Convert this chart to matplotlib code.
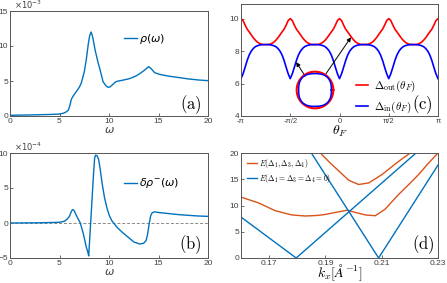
import numpy as np
import matplotlib
matplotlib.use("Agg")
import matplotlib.pyplot as plt

# ---------------- data ----------------
# (a) rho(omega), units of 1e-3
omega_a = [0, 2, 4, 5, 5.4, 5.7, 5.9, 6.05, 6.2, 6.4,
           6.7, 7.0, 7.2, 7.5, 7.7, 7.9, 8.05, 8.2, 8.35, 8.6,
           8.9, 9.1, 9.4, 9.7, 9.9, 10.1, 10.3, 10.6, 10.8, 11.5,
           12.1, 12.7, 13.1, 13.5, 13.8, 14.0, 14.2, 14.6, 15.1, 16,
           17, 18, 19, 20]
rho_a = [0.1, 0.15, 0.22, 0.28, 0.4, 0.6, 0.86, 1.5, 2.4, 2.9,
         3.5, 4.1, 4.7, 6.3, 8.0, 10.2, 11.5, 12.0, 11.3, 9.4,
         7.6, 6.6, 4.9, 4.3, 4.1, 4.15, 4.4, 4.8, 4.95, 5.15,
         5.35, 5.7, 6.05, 6.45, 6.8, 7.05, 6.85, 6.2, 5.95, 5.7,
         5.5, 5.3, 5.15, 5.05]

# (b) delta rho^-(omega), units of 1e-4
omega_b = [0, 3, 5, 5.5, 5.8, 6.0, 6.15, 6.3, 6.45, 6.6,
           6.8, 7.1, 7.4, 7.7, 7.85, 7.95, 8.05, 8.15, 8.25, 8.35,
           8.45, 8.55, 8.65, 8.8, 8.95, 9.1, 9.3, 9.55, 9.8, 10.05,
           10.3, 10.8, 11.4, 12.0, 12.5, 13.1, 13.5, 13.75, 13.9, 14.05,
           14.2, 14.35, 14.6, 15.0, 16, 17, 18, 19, 20]
drho_b = [0.0, 0.03, 0.1, 0.25, 0.6, 0.95, 1.5, 1.9, 1.85, 1.4,
          0.8, 0.0, -1.5, -3.4, -4.1, -4.7, -2.3, 0.1, 2.5, 4.9,
          7.3, 9.3, 9.7, 9.6, 9.1, 7.8, 5.7, 3.6, 2.1, 1.0,
          0.3, -0.6, -1.4, -2.1, -2.7, -3.0, -2.9, -2.5, -1.6, -0.2,
          1.0, 1.45, 1.6, 1.5, 1.35, 1.2, 1.1, 1.0, 0.95]

# (c) Delta_out / Delta_in vs theta_F (97 points from -pi to pi)
delta_out = [
    10.0, 9.88, 9.6, 9.35, 9.18, 9.0, 8.82, 8.67, 8.55, 8.47, 8.42, 8.4,
    8.4, 8.4, 8.42, 8.47, 8.55, 8.67, 8.82, 9.0, 9.18, 9.35, 9.6, 9.88,
    10.0, 9.88, 9.6, 9.35, 9.18, 9.0, 8.82, 8.67, 8.55, 8.47, 8.42, 8.4,
    8.4, 8.4, 8.42, 8.47, 8.55, 8.67, 8.82, 9.0, 9.18, 9.35, 9.6, 9.88,
    10.0, 9.88, 9.6, 9.35, 9.18, 9.0, 8.82, 8.67, 8.55, 8.47, 8.42, 8.4,
    8.4, 8.4, 8.42, 8.47, 8.55, 8.67, 8.82, 9.0, 9.18, 9.35, 9.6, 9.88,
    10.0, 9.88, 9.6, 9.35, 9.18, 9.0, 8.82, 8.67, 8.55, 8.47, 8.42, 8.4,
    8.4, 8.4, 8.42, 8.47, 8.55, 8.67, 8.82, 9.0, 9.18, 9.35, 9.6, 9.88,
    10.0]
delta_in = [
    6.3, 6.6, 7.0, 7.42, 7.76, 8.0, 8.16, 8.27, 8.33, 8.37, 8.39, 8.4,
    8.4, 8.4, 8.39, 8.37, 8.33, 8.27, 8.16, 8.0, 7.76, 7.42, 7.0, 6.6,
    6.3, 6.6, 7.0, 7.42, 7.76, 8.0, 8.16, 8.27, 8.33, 8.37, 8.39, 8.4,
    8.4, 8.4, 8.39, 8.37, 8.33, 8.27, 8.16, 8.0, 7.76, 7.42, 7.0, 6.6,
    6.3, 6.6, 7.0, 7.42, 7.76, 8.0, 8.16, 8.27, 8.33, 8.37, 8.39, 8.4,
    8.4, 8.4, 8.39, 8.37, 8.33, 8.27, 8.16, 8.0, 7.76, 7.42, 7.0, 6.6,
    6.3, 6.6, 7.0, 7.42, 7.76, 8.0, 8.16, 8.27, 8.33, 8.37, 8.39, 8.4,
    8.4, 8.4, 8.39, 8.37, 8.33, 8.27, 8.16, 8.0, 7.76, 7.42, 7.0, 6.6,
    6.3]
theta_ticks_lbl = ['-π', '-π/2', '0', 'π/2', 'π']
# inset Fermi-surface shapes (angle in degrees, radius normalised)
fs_angle = [0, 15, 30, 45, 60, 75, 90, 105, 120, 135, 150, 165, 180,
            195, 210, 225, 240, 255, 270, 285, 300, 315, 330, 345, 360]
fs_r_out = [1.0] * 25
fs_r_in = [0.89, 0.91, 0.95, 0.97, 0.95, 0.91, 0.89, 0.91, 0.95, 0.97, 0.95, 0.91, 0.89,
           0.91, 0.95, 0.97, 0.95, 0.91, 0.89, 0.91, 0.95, 0.97, 0.95, 0.91, 0.89]

# (d) dispersions
k_low = [0.16, 0.1662, 0.1722, 0.1781, 0.1828, 0.1870, 0.1900, 0.1947, 0.1977,
         0.2005, 0.2042, 0.2077, 0.2112, 0.2160, 0.2200, 0.2231, 0.2265, 0.23]
E_low = [11.6, 10.5, 9.0, 8.2, 8.0, 8.1, 8.3, 8.8, 9.1,
         8.7, 8.2, 8.05, 9.3, 12.1, 14.2, 15.9, 18.0, 20.0]
k_up = [0.1882, 0.1915, 0.1947, 0.1983, 0.2018, 0.2054, 0.2101, 0.2148, 0.2175, 0.2202]
E_up = [20.0, 18.2, 16.6, 14.8, 14.0, 14.3, 15.9, 17.9, 19.0, 20.0]
k_v1 = [0.16, 0.1796, 0.2222]
E_v1 = [7.8, 0.0, 20.0]
k_v2 = [0.1850, 0.2089, 0.23]
E_v2 = [20.0, 0.0, 17.7]

# ---------------- figure ----------------
W, H = 447, 283
fig = plt.figure(figsize=(W / 100, H / 100), dpi=100)

def pax(l, t, r, b):
    return fig.add_axes([l / W, 1 - b / H, (r - l) / W, (b - t) / H])

mblue = '#0072BD'
morange = '#D95319'
tickc = '#404040'
spc = '#555555'
TF = 'Liberation Sans'

def style(ax):
    for s in ax.spines.values():
        s.set_color(spc)
        s.set_linewidth(0.7)
    ax.tick_params(direction='in', length=2.5, width=0.6, colors=spc,
                   labelcolor=tickc, labelsize=6, pad=1.2)
    for lab in ax.get_xticklabels() + ax.get_yticklabels():
        lab.set_family(TF)

# (a)
axa = pax(10, 11, 208, 116)
axa.plot(omega_a, rho_a, color=mblue, lw=1.0, label=r'$\rho(\omega)$')
axa.set_xlim(0, 20); axa.set_ylim(0, 15)
axa.set_xticks([0, 5, 10, 15, 20]); axa.set_yticks([0, 5, 10, 15])
style(axa)
axa.set_xlabel(r'$\omega$', fontsize=8, labelpad=0, color=tickc)
axa.text(0.02, 1.0, r'$\times10^{-3}$', transform=axa.transAxes, fontsize=6,
         color=tickc, va='bottom', ha='left')
axa.legend(loc='upper left', bbox_to_anchor=(0.55, 0.85), frameon=False,
           fontsize=8, handlelength=1.1, handletextpad=0.2, borderpad=0)
axa.text(0.97, 0.11, r'$\mathrm{(a)}$', transform=axa.transAxes, fontsize=12,
         ha='right', va='center', math_fontfamily='cm')

# (b)
axb = pax(10, 153, 208, 258)
axb.axhline(0, color='#888888', lw=0.7, ls='--', dashes=(3, 2))
axb.plot(omega_b, drho_b, color=mblue, lw=1.0, label=r'$\delta\rho^{-}(\omega)$')
axb.set_xlim(0, 20); axb.set_ylim(-5, 10)
axb.set_xticks([0, 5, 10, 15, 20]); axb.set_yticks([-5, 0, 5, 10])
style(axb)
axb.set_xlabel(r'$\omega$', fontsize=8, labelpad=0, color=tickc)
axb.text(0.02, 1.0, r'$\times10^{-4}$', transform=axb.transAxes, fontsize=6,
         color=tickc, va='bottom', ha='left')
axb.legend(loc='upper left', bbox_to_anchor=(0.55, 0.83), frameon=False,
           fontsize=8, handlelength=1.1, handletextpad=0.2, borderpad=0)
axb.text(0.97, 0.125, r'$\mathrm{(b)}$', transform=axb.transAxes, fontsize=12,
         ha='right', va='center', math_fontfamily='cm')

# (c)
axc = pax(241, 4, 438, 116)
theta = np.linspace(-np.pi, np.pi, len(delta_out))
axc.plot(theta, delta_out, color='r', lw=1.2,
         label=r'$\Delta_{\rm out}(\theta_F)$')
axc.plot(theta, delta_in, color='b', lw=1.2,
         label=r'$\Delta_{\rm in}(\theta_F)$')
axc.set_xlim(-np.pi, np.pi); axc.set_ylim(4, 10.9)
axc.set_xticks([-np.pi, -np.pi / 2, 0, np.pi / 2, np.pi])
axc.set_xticklabels(theta_ticks_lbl)
axc.set_yticks([4, 6, 8, 10])
style(axc)
axc.tick_params(axis='x', labelsize=5.5)
axc.set_xlabel(r'$\theta_F$', fontsize=10, labelpad=-1, math_fontfamily='cm')
axc.legend(loc='upper left', bbox_to_anchor=(0.555, 0.38), frameon=False,
           handlelength=1.1, handletextpad=0.5, borderpad=0,
           labelspacing=0.45, prop={'size': 8, 'math_fontfamily': 'cm'})
axc.text(0.975, 0.10, r'$\mathrm{(c)}$', transform=axc.transAxes, fontsize=12,
         ha='right', va='center', math_fontfamily='cm')
axc.annotate('', xy=(-1.383, 7.32), xytext=(-1.097, 6.46),
             arrowprops=dict(arrowstyle='-|>', color='k', lw=0.7,
                             mutation_scale=6, shrinkA=0, shrinkB=0))
axc.annotate('', xy=(0.366, 8.85), xytext=(-0.461, 6.52),
             arrowprops=dict(arrowstyle='-|>', color='k', lw=0.7,
                             mutation_scale=6, shrinkA=0, shrinkB=0))
# inset Fermi surface
cx, cy, R = 315, 90, 22
axi = pax(cx - R, cy - R, cx + R, cy + R)
ang = np.deg2rad(fs_angle)
tt = np.linspace(0, 2 * np.pi, 200)
r_out_i = np.interp(tt, ang, fs_r_out)
r_in_i = np.interp(tt, ang, fs_r_in)
axi.plot(r_out_i * np.cos(tt), r_out_i * np.sin(tt), color='r', lw=1.5)
axi.plot(r_in_i * np.cos(tt), r_in_i * np.sin(tt), color='b', lw=1.1)
axi.set_xlim(-1.2, 1.2); axi.set_ylim(-1.2, 1.2)
axi.axis('off')

# (d)
axd = pax(241, 153, 438, 258)
axd.plot(k_low, E_low, color=morange, lw=1.0,
         label=r'$E(\Delta_1,\Delta_3,\Delta_4)$')
axd.plot(k_v1, E_v1, color=mblue, lw=1.0,
         label=r'$E(\Delta_1=\Delta_3=\Delta_4=0)$')
axd.plot(k_up, E_up, color=morange, lw=1.0)
axd.plot(k_v2, E_v2, color=mblue, lw=1.0)
axd.set_xlim(0.16, 0.23); axd.set_ylim(0, 20)
axd.set_xticks([0.17, 0.19, 0.21, 0.23]); axd.set_yticks([0, 5, 10, 15, 20])
axd.set_xticklabels(['0.17', '0.19', '0.21', '0.23'])
style(axd)
axd.set_xlabel(r'$k_x[\AA^{-1}]$', fontsize=10, labelpad=-3, math_fontfamily='cm')
axd.legend(loc='upper left', bbox_to_anchor=(0.01, 1.0), frameon=False,
           handlelength=1.3, handletextpad=0.3, borderpad=0, labelspacing=0.25,
           prop={'size': 5.5, 'math_fontfamily': 'cm'})
axd.text(0.985, 0.13, r'$\mathrm{(d)}$', transform=axd.transAxes, fontsize=12,
         ha='right', va='center', math_fontfamily='cm')

fig.savefig('out.png', dpi=100)
